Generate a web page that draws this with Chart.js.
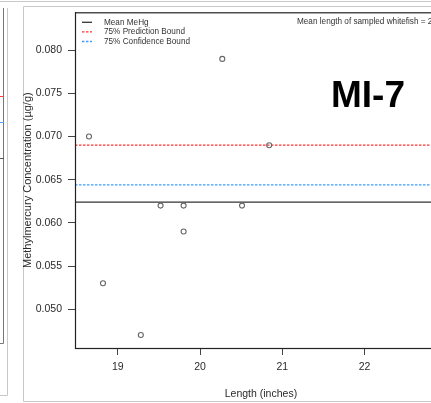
<!DOCTYPE html>
<html>
<head>
<meta charset="utf-8">
<script src="https://cdn.jsdelivr.net/npm/chart.js@4/dist/chart.umd.min.js"></script>
<style>
  html, body { margin: 0; padding: 0; background: #fff; overflow: hidden; }
  #wrap { position: relative; width: 431px; height: 403px; overflow: hidden; }
  #mi7 { position: absolute; left: 0; top: 0; }
</style>
</head>
<body>
<div id="wrap">
  <canvas id="mi7" width="452" height="403"></canvas>
</div>
<script>
// dados
const comprimentos = [18.65, 18.82, 19.28, 19.52, 19.80, 19.80, 20.27, 20.51, 20.84];
const mehg = [0.070, 0.053, 0.047, 0.062, 0.062, 0.059, 0.079, 0.062, 0.069];
const mediaMehg = 0.0624;
const limitePredicao = 0.069;
const limiteConfianca = 0.0644;
const ticksX = [19, 20, 21, 22];
const ticksY = [0.050, 0.055, 0.060, 0.065, 0.070, 0.075, 0.080];
const rotulosLegenda = ['Mean MeHg', '75% Prediction Bound', '75% Confidence Bound'];

const xMin = 18.48, xMax = 23.0;
const yMin = 0.0455, yMax = 0.0844;
const fonte = "'Liberation Sans', Arial, sans-serif";

// linha horizontal de ponta a ponta
const linha = (y) => [{ x: xMin, y: y }, { x: xMax, y: y }];

// caixa, legenda e textos
const extras = {
  id: 'extras',
  beforeDraw(chart) {
    const c = chart.ctx;
    c.save();
    // molduras da captura de tela
    c.strokeStyle = '#c8c8c8';
    c.lineWidth = 1;
    c.beginPath();
    c.moveTo(0, 1.5); c.lineTo(452, 1.5);
    c.moveTo(23.5, 6.5); c.lineTo(452, 6.5);
    c.moveTo(23.5, 6.5); c.lineTo(23.5, 401.5); c.lineTo(452, 401.5);
    c.moveTo(7.5, 8); c.lineTo(7.5, 395.5); c.lineTo(0, 395.5);
    c.stroke();
    c.strokeStyle = '#777';
    c.beginPath();
    c.moveTo(3.5, 8); c.lineTo(3.5, 343.5); c.lineTo(0, 343.5);
    c.stroke();
    c.fillStyle = '#ff4040'; c.fillRect(0, 96, 4, 1);
    c.fillStyle = '#4da6ff'; c.fillRect(0, 122, 4, 1);
    c.fillStyle = '#555'; c.fillRect(0, 158, 4, 1);
    c.restore();
  },
  afterDraw(chart) {
    const c = chart.ctx;
    const a = chart.chartArea;
    c.save();
    c.strokeStyle = '#222';
    c.lineWidth = 1.2;
    c.strokeRect(a.left + 0.5, a.top + 0.5, a.right - a.left, a.bottom - a.top);

    // legenda
    c.font = '8.2px ' + fonte;
    c.textBaseline = 'middle';
    const ds = chart.data.datasets.filter(d => d.legenda);
    ds.forEach((d, i) => {
      const y = a.top + 10 + i * 9.6;
      c.strokeStyle = d.borderColor;
      c.lineWidth = 1.3;
      c.setLineDash(d.borderDash || []);
      c.beginPath();
      c.moveTo(a.left + 7, y); c.lineTo(a.left + 17, y);
      c.stroke();
      c.setLineDash([]);
      c.fillStyle = '#333';
      c.fillText(d.label, a.left + 29, y);
    });
    c.fillText('Mean length of sampled whitefish = 20.0 inches', a.left + 222, a.top + 9);

    // rótulo do local
    c.font = 'bold 37px ' + fonte;
    c.fillStyle = '#000';
    c.textAlign = 'center';
    c.textBaseline = 'alphabetic';
    c.fillText('MI-7', 368, 107);
    c.restore();
  }
};

const ctx = document.getElementById('mi7').getContext('2d');
const grafico = new Chart(ctx, {
  type: 'scatter',
  data: {
    datasets: [
      {
        label: 'MeHg',
        data: comprimentos.map((x, i) => ({ x: x, y: mehg[i] })),
        pointRadius: 2.5,
        pointBorderWidth: 1.1,
        pointBorderColor: '#666',
        pointBackgroundColor: 'rgba(0,0,0,0)',
        showLine: false
      },
      {
        type: 'line',
        label: rotulosLegenda[0],
        legenda: true,
        data: linha(mediaMehg),
        borderColor: '#333',
        borderWidth: 1.2,
        pointRadius: 0
      },
      {
        type: 'line',
        label: rotulosLegenda[1],
        legenda: true,
        data: linha(limitePredicao),
        borderColor: '#ff3030',
        borderDash: [2.5, 1.5],
        borderWidth: 1.3,
        pointRadius: 0
      },
      {
        type: 'line',
        label: rotulosLegenda[2],
        legenda: true,
        data: linha(limiteConfianca),
        borderColor: '#3d9bff',
        borderDash: [2.5, 1.5],
        borderWidth: 1.3,
        pointRadius: 0
      }
    ]
  },
  options: {
    responsive: false,
    animation: false,
    devicePixelRatio: 1,
    layout: { padding: { left: 0, top: 12, right: 1, bottom: 0 } },
    plugins: {
      legend: { display: false },
      tooltip: { enabled: false }
    },
    scales: {
      x: {
        type: 'linear',
        min: xMin,
        max: xMax,
        afterBuildTicks: (s) => { s.ticks = ticksX.map(v => ({ value: v })); },
        afterFit: (s) => { s.height = 55; },
        grid: { drawOnChartArea: false, tickLength: 7, tickColor: '#444', tickWidth: 1 },
        border: { display: true, color: '#222', width: 1 },
        ticks: { padding: 6, color: '#2a2a2a', font: { family: fonte, size: 10.5 }, maxRotation: 0 },
        title: { display: true, text: 'Length (inches)', color: '#2a2a2a',
                 font: { family: fonte, size: 10.5 }, padding: { top: 0, bottom: 2.5 } }
      },
      y: {
        type: 'linear',
        min: yMin,
        max: yMax,
        afterBuildTicks: (s) => { s.ticks = ticksY.map(v => ({ value: v })); },
        afterFit: (s) => { s.width = 75; },
        grid: { drawOnChartArea: false, tickLength: 7, tickColor: '#444', tickWidth: 1 },
        border: { display: true, color: '#222', width: 1 },
        ticks: { padding: 6, color: '#2a2a2a', font: { family: fonte, size: 10.5 },
                 callback: (v) => v.toFixed(3) },
        title: { display: true, text: 'Methylmercury Concentration (µg/g)', color: '#2a2a2a',
                 font: { family: fonte, size: 11 }, padding: { top: 21, bottom: 0 } }
      }
    }
  },
  plugins: [extras]
});
</script>
</body>
</html>
